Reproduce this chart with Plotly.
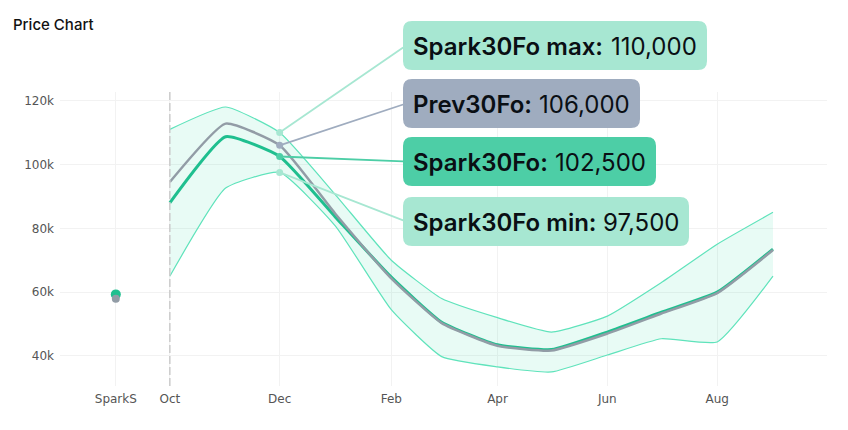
import plotly.graph_objects as go

months = ["2022-10-01", "2022-11-01", "2022-12-01", "2023-01-01", "2023-02-01", "2023-03-01",
          "2023-04-01", "2023-05-01", "2023-06-01", "2023-07-01", "2023-08-01", "2023-09-01"]
spark_max = [111000, 118000, 110000, 90500, 70000, 58000, 52000, 47500, 52500, 63000, 75000, 85000]
spark_min = [65000, 92600, 97500, 80700, 54500, 39800, 36600, 35000, 40300, 45400, 44400, 65000]
spark = [88000, 108700, 102500, 83500, 64700, 50600, 43500, 42000, 47500, 53700, 60000, 73500]
prev = [94500, 112800, 106000, 84500, 64300, 50300, 43200, 41700, 47000, 53300, 59700, 73200]

spot_date = "2022-09-01"
spark_spot = 59300
prev_spot = 57900

tick_dates = ["2022-09-01", "2022-10-01", "2022-12-01", "2023-02-01", "2023-04-01", "2023-06-01", "2023-08-01"]
tick_labels = ["SparkS", "Oct", "Dec", "Feb", "Apr", "Jun", "Aug"]
y_ticks = [40000, 60000, 80000, 100000, 120000]
y_labels = ["40k", "60k", "80k", "100k", "120k"]

callout_date = "2022-12-01"
callout_names = ["Spark30Fo max", "Prev30Fo", "Spark30Fo", "Spark30Fo min"]
callout_values = [110000, 106000, 102500, 97500]

GREEN = "#1fbf8f"
GREY = "#929ca6"
BAND = "#5fe3bb"
W, H = 848, 430
L, R, T, B = 60, 21, 92, 44
Y_MIN, Y_MAX = 30600, 122700
DEC_X = 279.5

callout_colors = ["#a7e7d2", "#9facbf", "#4dcea6", "#a7e7d2"]
# box left, right, top, bottom in pixels
callout_boxes = [(403, 707, 21, 70), (403, 640, 79, 128), (403, 656, 137, 186), (403, 689, 197, 246)]


def px(x):
    return (x - L) / (W - L - R)


def py(y):
    return 1 - (y - T) / (H - T - B)


def value_y(v):
    return T + (Y_MAX - v) / (Y_MAX - Y_MIN) * (H - T - B)


def round_box(x0, x1, y0, y1, r=9):
    return (f"M {px(x0 + r)} {py(y0)} L {px(x1 - r)} {py(y0)} Q {px(x1)} {py(y0)} {px(x1)} {py(y0 + r)} "
            f"L {px(x1)} {py(y1 - r)} Q {px(x1)} {py(y1)} {px(x1 - r)} {py(y1)} "
            f"L {px(x0 + r)} {py(y1)} Q {px(x0)} {py(y1)} {px(x0)} {py(y1 - r)} "
            f"L {px(x0)} {py(y0 + r)} Q {px(x0)} {py(y0)} {px(x0 + r)} {py(y0)} Z")


fig = go.Figure()

smooth = dict(shape="spline", smoothing=0.45)
fig.add_trace(go.Scatter(x=months, y=spark_max, mode="lines", line=dict(color=BAND, width=1.2, **smooth)))
fig.add_trace(go.Scatter(x=months, y=spark_min, mode="lines", line=dict(color=BAND, width=1.2, **smooth),
                         fill="tonexty", fillcolor="rgba(31,214,158,0.1)"))
fig.add_trace(go.Scatter(x=months, y=spark, mode="lines", line=dict(color=GREEN, width=3, **smooth)))
fig.add_trace(go.Scatter(x=months, y=prev, mode="lines", line=dict(color=GREY, width=2.5, **smooth)))
fig.add_trace(go.Scatter(x=[spot_date], y=[spark_spot], mode="markers", marker=dict(color=GREEN, size=10)))
fig.add_trace(go.Scatter(x=[spot_date], y=[prev_spot], mode="markers", marker=dict(color=GREY, size=8)))
fig.add_trace(go.Scatter(x=[callout_date] * 4, y=callout_values, mode="markers",
                         marker=dict(color=callout_colors, size=7)))

fig.add_shape(type="line", x0="2022-10-01", x1="2022-10-01", y0=0, y1=1, yref="paper",
              line=dict(color="#cccccc", width=1.5, dash="8px,3px"))

for name, value, color, box in zip(callout_names, callout_values, callout_colors, callout_boxes):
    fig.add_shape(type="path", path=round_box(box[0], box[1], box[2], box[3]), xref="paper", yref="paper",
                  fillcolor=color, line=dict(width=0), layer="above")
    mid = (box[2] + box[3]) / 2
    fig.add_annotation(x=callout_date, y=value, ax=box[0] + 3 - DEC_X, ay=mid - value_y(value), axref="pixel",
                       ayref="pixel", text=" ", showarrow=True, arrowhead=0, arrowwidth=1.8, arrowcolor=color,
                       standoff=0)
    fig.add_annotation(x=px(box[0] + 8), y=py(mid + 0.5), xref="paper", yref="paper", xanchor="left", yanchor="middle",
                       showarrow=False, text=f"{name}:",
                       font=dict(family="Inter", size=24, color="#0a0f14", weight=600))
    fig.add_annotation(x=px(box[1] - 8), y=py(mid + 0.5), xref="paper", yref="paper", xanchor="right", yanchor="middle",
                       showarrow=False, text=f"{value:,}",
                       font=dict(family="Inter", size=24, color="#0a0f14", weight=400))

fig.update_layout(
    width=W, height=H,
    margin=dict(l=L, r=R, t=T, b=B),
    paper_bgcolor="white", plot_bgcolor="white",
    showlegend=False,
    title=dict(text="Price Chart", x=13 / W, y=1 - 25 / H, xanchor="left", yanchor="middle",
               font=dict(family="Inter", size=15, color="#111111", weight=500)),
)
fig.update_xaxes(type="date", range=["2022-08-01", "2023-10-01"], tickmode="array", tickvals=tick_dates,
                 ticktext=tick_labels, showgrid=True, gridcolor="#f2f2f2", gridwidth=1, zeroline=False,
                 showline=False, ticklabelstandoff=4,
                 tickfont=dict(family="DejaVu Sans", size=12, color="#555555"))
fig.update_yaxes(range=[Y_MIN, Y_MAX], tickmode="array", tickvals=y_ticks, ticktext=y_labels, showgrid=True,
                 gridcolor="#f2f2f2", gridwidth=1, zeroline=False, showline=False, ticklabelstandoff=5,
                 tickfont=dict(family="DejaVu Sans", size=12, color="#555555"))

# the page's default body margin would shift the chart by 8px
fig.write_html("out.html", config={"displayModeBar": False}, post_script="document.body.style.margin = '0';")
